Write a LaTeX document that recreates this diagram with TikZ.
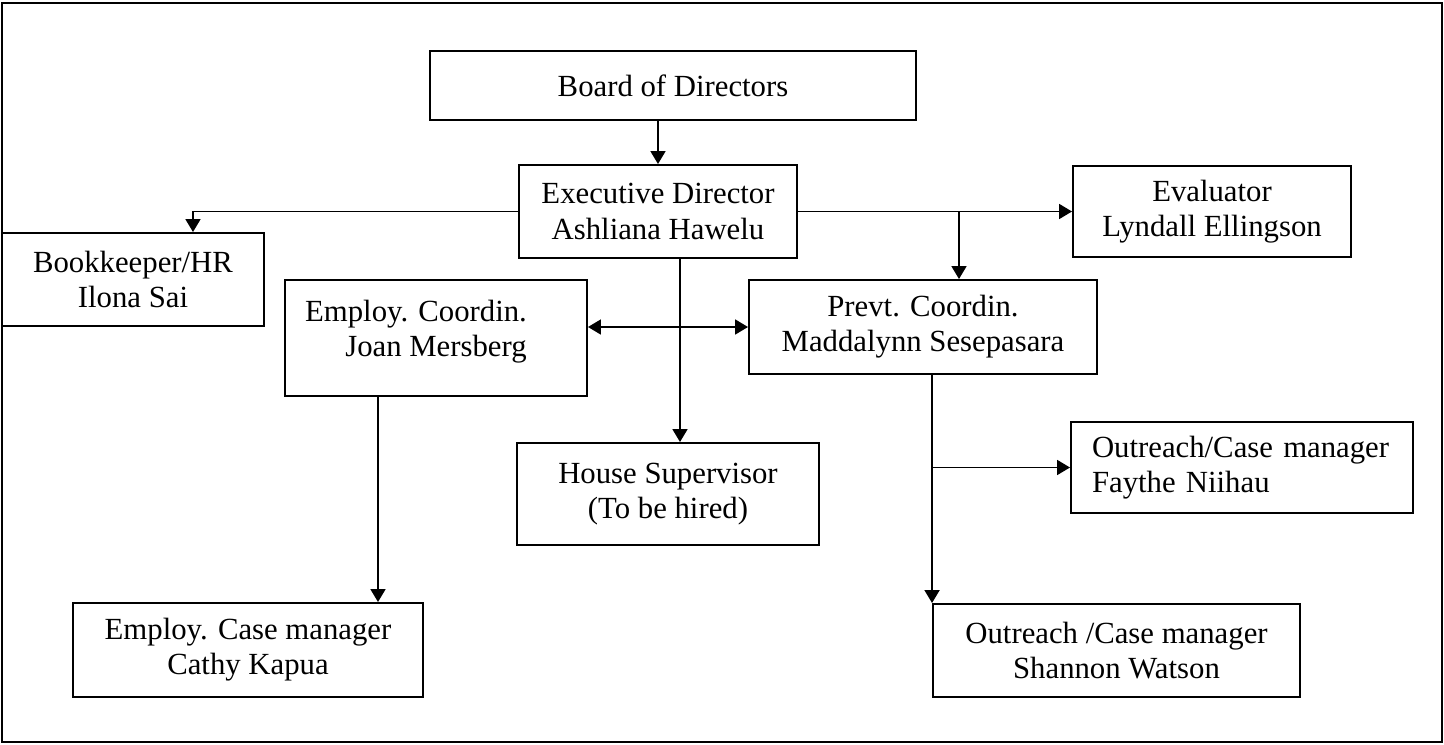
\documentclass[tikz,border=0pt]{standalone}
\usepackage{fontspec}
\setmainfont{Liberation Serif}
\usetikzlibrary{arrows.meta}

\begin{document}
\begin{tikzpicture}[x=0.02cm,y=-0.02cm,
  font=\fontsize{17.5}{20}\selectfont,
  box/.style={draw, line width=1.1pt, inner sep=0pt, align=center},
  link/.style={line width=1pt, -{Triangle[length=0.26cm,width=0.3cm]}}]

\def\u{0.02cm}
\useasboundingbox (0,0) rectangle (1444,744);
\draw[line width=1.1pt] (2,3) rectangle (1442,742); %frame

 \node[box, minimum width=486*\u, minimum height=69*\u] (board) at (673,85.5) {Board of Directors};
 \node[box, minimum width=278*\u, minimum height=93*\u] (exec) at (658,211.5) {Executive Director\\Ashliana Hawelu};
 \node[box, minimum width=262*\u, minimum height=93*\u] (book) at (133,279.5) {Bookkeeper/HR\\Ilona Sai};
 \node[box, minimum width=278*\u, minimum height=91*\u] (eval) at (1212,211.5) {Evaluator\\Lyndall Ellingson};
 \node[box, minimum width=302*\u, minimum height=116*\u] (emp) at (436,338)
  {Employ. Coordin.\hspace*{0.8cm}\\Joan Mersberg\rule[-0.4cm]{0pt}{0.4cm}};
 \node[box, minimum width=348*\u, minimum height=94*\u] (prevt) at (923,327) {Prevt. Coordin.\\Maddalynn Sesepasara};
 \node[box, minimum width=302*\u, minimum height=102*\u] (house) at (668,494) {House Supervisor\\(To be hired)};
 \node[box, minimum width=350*\u, minimum height=94*\u] (ecase) at (248,650) {Employ. Case manager\\Cathy Kapua};
 \node[box, minimum width=342*\u, minimum height=91*\u, inner xsep=21*\u, text width=300*\u, align=left]
  (faythe) at (1242,467.5) {Outreach/Case manager\\Faythe Niihau};
 \node[box, minimum width=367*\u, minimum height=93*\u] (shan) at (1116.5,650.5) {Outreach /Case manager\\Shannon Watson};

 \coordinate (br) at (959,0);
 \coordinate (hs) at (680,0);
 \coordinate (ec) at (378,0);

 \draw[link] (board.south -| exec) -- (exec.north);
 \draw[link] (exec.west) -| ([xshift=1.2cm]book.north);
 \draw[link] (exec.east) -- (eval.west);
 \draw[link] (exec.east -| br) -- (prevt.north -| br);
 \draw[link] (exec.south -| hs) -- (house.north -| hs);
 \draw[link, {Triangle[length=0.26cm,width=0.3cm]}-{Triangle[length=0.26cm,width=0.3cm]}]
  (emp.east |- prevt.west) -- (prevt.west);
 \draw[link] (emp.south -| ec) -- (ecase.north -| ec);
 \draw[link] (prevt.south -| shan.north west) -- (shan.north west);
 \draw[link] (faythe.west -| shan.north west) -- (faythe.west);

\end{tikzpicture}
\end{document}
